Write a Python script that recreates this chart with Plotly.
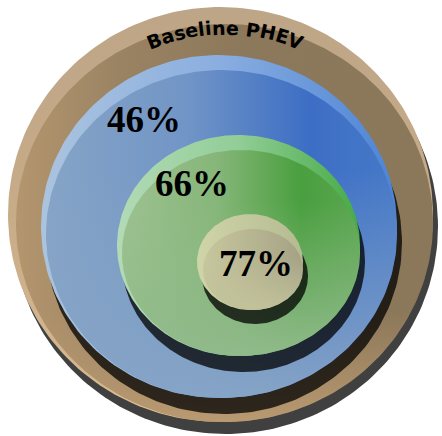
import numpy as np
import plotly.graph_objects as go

# Nested discs, outermost first
ring_names = ["Baseline PHEV", "Tier 1", "Tier 2", "Tier 3"]
shares = [None, 46, 66, 77]          # percent shown on each inner disc
title_text = "Baseline PHEV"

W, H = 442, 436

# disc geometry in page pixels: (cx, cy, rx, ry)
discs = [
    (220.5, 214.5, 212.5, 207.5),
    (219.0, 226.5, 178.0, 171.5),
    (238.5, 245.5, 121.5, 110.5),
    (250.0, 262.0, 53.0, 48.0),
]
# bevel inset: top and left edges pushed in, bottom-right kept
bevels = [(8, 17), (5, 15), (5, 15), (6, 15)]
shadow_offsets = [(5, 12), (5, 16), (5, 16), (5, 14)]

rim_scales = [
    ("vertical", [[0, "#bda587"], [0.5, "#c8ac88"], [1, "#dabb91"]]),
    ("horizontal", [[0, "#abc4de"], [0.5, "#8aaee0"], [1, "#4d84d6"]]),
    ("horizontal", [[0, "#b2dab6"], [0.5, "#92cd97"], [1, "#45ab45"]]),
    ("horizontal", [[0, "#cfd5a8"], [1, "#b5ba91"]]),
]
face_scales = [
    [[0, "#b4966e"], [0.25, "#9a8363"], [0.55, "#8c785a"], [1, "#8b7759"]],
    [[0, "#86a4c6"], [0.4, "#7195c6"], [0.75, "#3d6ec5"], [1, "#4679c8"]],
    [[0, "#9dc191"], [0.4, "#86b679"], [0.75, "#4a9f3f"], [1, "#5aa650"]],
    [[0, "#c7c79e"], [1, "#a5a285"]],
]
fade_colors = ["190,157,115", "134,164,198", "144,186,138", "195,195,155"]
fade_stops = [(0.72, 0.9), (0.3, 1.0), (0.25, 1.0), (0.35, 0.9)]

pct_pos = [None, (144, 119), (192, 183), (256, 263)]

t = np.linspace(0, 2 * np.pi, 241)


def ellipse(cx, cy, rx, ry):
    return cx + rx * np.cos(t), cy + ry * np.sin(t)


def blob(x, y, color=None, grad=None):
    tr = dict(x=x, y=y, mode="lines", fill="toself", line=dict(width=0),
              hoverinfo="skip", showlegend=False)
    if grad is not None:
        tr["fillgradient"] = grad
    else:
        tr["fillcolor"] = color
    return go.Scatter(**tr)


fig = go.Figure()

for i, (cx, cy, rx, ry) in enumerate(discs):
    dx, dy = shadow_offsets[i]
    # drop shadow
    sx, sy = ellipse(cx + dx, cy + dy, rx, ry)
    fig.add_trace(blob(sx, sy, color="rgba(0,0,0,0.75)"))
    # light rim
    bx, by = ellipse(cx, cy, rx, ry)
    kind, cs = rim_scales[i]
    if kind == "vertical":
        g = dict(type="vertical", colorscale=cs, start=cy - ry, stop=cy + ry)
    else:
        g = dict(type="horizontal", colorscale=cs, start=cx - rx, stop=cx + rx)
    fig.add_trace(blob(bx, by, grad=g))
    # bevelled face
    il, it = bevels[i]
    fcx, fcy = cx + il / 2, cy + it / 2
    frx, fry = rx - il / 2, ry - it / 2
    fx, fy = ellipse(fcx, fcy, frx, fry)
    fig.add_trace(blob(fx, fy, grad=dict(type="horizontal", colorscale=face_scales[i],
                                         start=fcx - frx, stop=fcx + frx)))
    # soft lighter wash toward the bottom
    a0, a1 = fade_stops[i]
    fc = fade_colors[i]
    fig.add_trace(blob(fx, fy, grad=dict(
        type="vertical",
        colorscale=[[0, f"rgba({fc},0)"], [a0, f"rgba({fc},0)"], [1, f"rgba({fc},{a1})"]],
        start=fcy - fry, stop=fcy + fry)))

annotations = []

# curved title along the top of the outer disc
fs = 19
adv = {"B": .762, "a": .675, "s": .595, "e": .678, "l": .343, "i": .343, "n": .712,
       " ": .348, "P": .733, "H": .837, "E": .683, "V": .774}
widths = [adv.get(c, .7) * fs * 1.0 for c in title_text]
total = sum(widths)
arc_cx, arc_cy, arc_r = 225.0, 224.0, 190.0
s = 0.0
for ch, w in zip(title_text, widths):
    mid = s + w / 2
    s += w
    if ch == " ":
        continue
    th = (mid - total / 2) / arc_r
    rr = arc_r + 0.34 * fs
    annotations.append(dict(
        x=arc_cx + rr * np.sin(th), y=arc_cy - rr * np.cos(th),
        xref="x", yref="y", text=f"<b>{ch}</b>", showarrow=False,
        textangle=float(np.degrees(th)), xanchor="center", yanchor="middle",
        font=dict(family="DejaVu Sans", size=fs, color="black")))

for v, p in zip(shares, pct_pos):
    if v is None:
        continue
    annotations.append(dict(
        x=p[0], y=p[1], xref="x", yref="y", text=f"<b>{v}%</b>", showarrow=False,
        xanchor="center", yanchor="middle",
        font=dict(family="Liberation Serif", size=37, color="black")))

fig.update_layout(
    width=W, height=H, margin=dict(l=0, r=0, t=0, b=0),
    paper_bgcolor="white", plot_bgcolor="white",
    xaxis=dict(range=[0, W], visible=False, fixedrange=True),
    yaxis=dict(range=[H, 0], visible=False, fixedrange=True),
    annotations=annotations, showlegend=False,
)

fig.write_html("out.html", config={"displayModeBar": False})
